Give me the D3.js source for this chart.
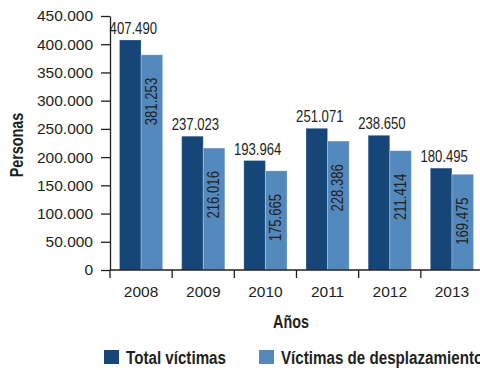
<!DOCTYPE html>
<html>
<head>
<meta charset="utf-8">
<script src="https://cdn.jsdelivr.net/npm/d3@7"></script>
<style>
  body { margin: 0; background: #fff; }
  svg { display: block; }
  .tick text { font-family: "Liberation Sans", Arial, sans-serif; font-size: 15.5px; fill: #231f20; }
  .axis path, .axis line { stroke: #231f20; stroke-width: 1.3; }
  .val { font-family: "Liberation Sans", Arial, sans-serif; font-size: 16px; fill: #231f20; }
  .bold { font-family: "Liberation Sans", Arial, sans-serif; font-weight: bold; font-size: 17.5px; fill: #231f20; }
  .legtext { font-size: 18.5px; }
</style>
</head>
<body>
<div id="chart"></div>
<script>
const WIDTH = 480, HEIGHT = 370;
const NARROW = 0.82; // horizontal squeeze to mimic a condensed face

// data
const years = ["2008", "2009", "2010", "2011", "2012", "2013"];
const seriesNames = ["Total víctimas", "Víctimas de desplazamiento"];
const totalVictimas = [407490, 237023, 193964, 251071, 238650, 180495];
const desplazamiento = [381253, 216016, 175665, 228386, 211414, 169475];
const yTicks = [0, 50000, 100000, 150000, 200000, 250000, 300000, 350000, 400000, 450000];
const colors = ["#164677", "#5489be"];

const loc = d3.formatLocale({ decimal: ",", thousands: ".", grouping: [3], currency: ["", ""] });
const fmt = loc.format(",");

const rows = years.map((y, i) => ({ year: y, values: [totalVictimas[i], desplazamiento[i]] }));

const svg = d3.select("#chart").append("svg")
  .attr("width", WIDTH).attr("height", HEIGHT);

const x = d3.scaleBand().domain(years).range([110, 483]).padding(0);
const x1 = d3.scaleBand().domain([0, 1]).range([0, x.bandwidth()]).paddingOuter(0.44).paddingInner(0);
const y = d3.scaleLinear().domain([0, 450000]).range([270, 16]);

// bars
const grp = svg.selectAll(".grp").data(rows).join("g")
  .attr("transform", d => `translate(${x(d.year)},0)`);

grp.selectAll("rect").data(d => d.values).join("rect")
  .attr("x", (d, i) => x1(i))
  .attr("y", d => y(d))
  .attr("width", x1.bandwidth())
  .attr("height", d => y(0) - y(d))
  .attr("fill", (d, i) => colors[i])
  .attr("stroke", "rgba(255,255,255,0.25)")
  .attr("stroke-width", 1);

// total labels above dark bars
grp.append("text").attr("class", "val")
  .attr("transform", d => `translate(${x1(0) + x1.bandwidth() / 2 + 3},${y(d.values[0]) - 6}) scale(${NARROW},1)`)
  .attr("text-anchor", "middle")
  .text(d => fmt(d.values[0]));

// displacement labels inside light bars, rotated
grp.append("text").attr("class", "val")
  .attr("transform", d => `translate(${x1(1) + x1.bandwidth() / 2 + 5},${y(d.values[1]) + 23}) rotate(-90) scale(${NARROW},1)`)
  .attr("text-anchor", "end")
  .text(d => fmt(d.values[1]));

// y axis
svg.append("g").attr("class", "axis")
  .attr("transform", "translate(110,0)")
  .call(d3.axisLeft(y).tickValues(yTicks).tickSize(9).tickSizeOuter(0).tickPadding(8).tickFormat(fmt));

// x axis
const xAxis = svg.append("g").attr("class", "axis").attr("transform", "translate(0,270)");
xAxis.append("line").attr("x1", 110).attr("x2", 483).attr("y1", 0).attr("y2", 0);
xAxis.selectAll(".bt").data(years).join("line")
  .attr("x1", d => x(d)).attr("x2", d => x(d))
  .attr("y1", 0).attr("y2", 8);
xAxis.call(g => g.append("g")
  .call(d3.axisBottom(x).tickSize(0).tickPadding(16))
  .call(a => a.select(".domain").remove()));

// axis titles
svg.append("text").attr("class", "bold")
  .attr("transform", `translate(291,328) scale(${NARROW},1)`)
  .attr("text-anchor", "middle")
  .text("Años");

svg.append("text").attr("class", "bold")
  .attr("transform", `translate(23,145) rotate(-90) scale(${NARROW},1)`)
  .attr("text-anchor", "middle")
  .text("Personas");

// legend
const legX = [104, 259];
const leg = svg.selectAll(".leg").data(seriesNames).join("g")
  .attr("transform", (d, i) => `translate(${legX[i]},350)`);
leg.append("rect").attr("width", 15).attr("height", 14)
  .attr("fill", (d, i) => colors[i]);
leg.append("text").attr("class", "bold legtext")
  .attr("transform", `translate(22,14) scale(${NARROW},1)`)
  .text(d => d);
</script>
</body>
</html>
